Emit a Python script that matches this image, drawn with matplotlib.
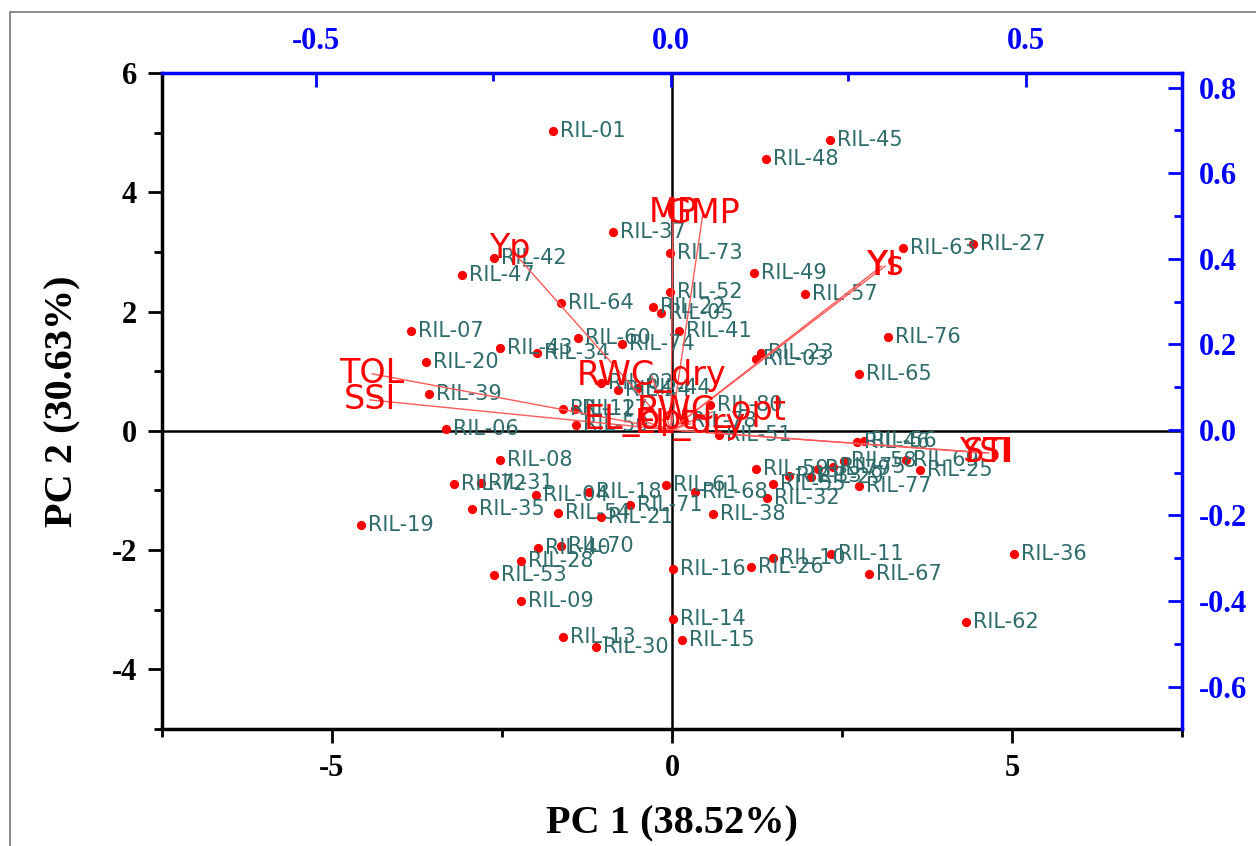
import matplotlib
matplotlib.use("Agg")
import matplotlib.pyplot as plt
from matplotlib.patches import Rectangle
from matplotlib.ticker import MultipleLocator, FixedLocator

plt.rcParams["axes.unicode_minus"] = False

# PCA scores of the RILs (PC1, PC2)
ril_names = [
    "RIL-01", "RIL-45", "RIL-48", "RIL-37", "RIL-73", "RIL-63", "RIL-27", "RIL-42",
    "RIL-47", "RIL-49", "RIL-57", "RIL-52", "RIL-64", "RIL-22", "RIL-05", "RIL-41",
    "RIL-07", "RIL-76", "RIL-60", "RIL-74", "RIL-43", "RIL-34", "RIL-20", "RIL-23",
    "RIL-03", "RIL-65", "RIL-39", "RIL-02", "RIL-24", "RIL-44", "RIL-80", "RIL-12",
    "RIL-17", "RIL-50", "RIL-78", "RIL-06", "RIL-51", "RIL-46", "RIL-56", "RIL-58",
    "RIL-69", "RIL-25", "RIL-59", "RIL-33", "RIL-55", "RIL-29", "RIL-79", "RIL-75",
    "RIL-77", "RIL-32", "RIL-38", "RIL-68", "RIL-61", "RIL-71", "RIL-21", "RIL-18",
    "RIL-04", "RIL-54", "RIL-08", "RIL-72", "RIL-31", "RIL-35", "RIL-19", "RIL-40",
    "RIL-70", "RIL-28", "RIL-53", "RIL-09", "RIL-13", "RIL-30", "RIL-16", "RIL-14",
    "RIL-15", "RIL-26", "RIL-10", "RIL-11", "RIL-67", "RIL-36", "RIL-62",
]
pc1 = [
    -1.75, 2.32, 1.38, -0.87, -0.03, 3.40, 4.43, -2.62,
    -3.09, 1.21, 1.96, -0.03, -1.63, -0.28, -0.16, 0.10,
    -3.84, 3.18, -1.38, -0.74, -2.53, -1.99, -3.62, 1.31,
    1.24, 2.75, -3.57, -1.04, -0.79, -0.50, 0.56, -1.60,
    -1.43, -1.41, 0.18, -3.32, 0.69, 2.72, 2.82, 2.53,
    3.44, 3.65, 1.24, 1.72, 1.49, 2.04, 2.15, 2.37,
    2.75, 1.40, 0.60, 0.34, -0.09, -0.62, -1.04, -1.22,
    -2.00, -1.68, -2.53, -3.21, -2.81, -2.94, -4.57, -1.97,
    -1.63, -2.22, -2.62, -2.22, -1.60, -1.12, 0.01, 0.01,
    0.15, 1.16, 1.49, 2.34, 2.90, 5.03, 4.32,
]
pc2 = [
    5.03, 4.87, 4.55, 3.34, 2.99, 3.06, 3.14, 2.89,
    2.62, 2.64, 2.30, 2.32, 2.15, 2.08, 1.98, 1.68,
    1.68, 1.58, 1.55, 1.45, 1.39, 1.31, 1.16, 1.31,
    1.21, 0.96, 0.61, 0.81, 0.69, 0.71, 0.44, 0.36,
    0.37, 0.10, 0.17, 0.03, -0.07, -0.18, -0.17, -0.50,
    -0.49, -0.66, -0.64, -0.76, -0.89, -0.77, -0.64, -0.61,
    -0.92, -1.13, -1.39, -1.03, -0.91, -1.24, -1.45, -1.03,
    -1.08, -1.38, -0.49, -0.89, -0.87, -1.31, -1.58, -1.97,
    -1.93, -2.18, -2.42, -2.86, -3.46, -3.63, -2.32, -3.16,
    -3.50, -2.29, -2.13, -2.07, -2.40, -2.07, -3.21,
]

# trait loadings (top / right axes)
trait_names = ["Yp", "MP", "GMP", "TOL", "SSI", "Ys", "YI", "YSI", "STI",
               "RWC_dry", "EL_opt", "RWC_opt", "EL_dry"]
load1 = [-0.227, 0.003, 0.045, -0.421, -0.424, 0.302, 0.297, 0.442, 0.448,
         -0.027, -0.044, 0.058, 0.027]
load2 = [0.425, 0.509, 0.505, 0.131, 0.070, 0.383, 0.383, -0.054, -0.054,
         0.126, 0.023, 0.042, 0.014]

serif = "Liberation Serif"
teal = "#2f6b6b"
blue = "#0000ff"

fig = plt.figure(figsize=(12.56, 8.46), dpi=100)
fig.patches.append(Rectangle((10 / 1256, -0.01), 1.02, 1 - 12 / 846 + 0.01,
                             transform=fig.transFigure, fill=False,
                             edgecolor="#777777", linewidth=1.2))

pos = [162 / 1256, (846 - 729) / 846, 1020 / 1256, 656 / 846]
ax = fig.add_axes(pos)
ax.set_xlim(-7.5, 7.5)
ax.set_ylim(-5, 6)

ax.axvline(0, color="black", lw=1.8, zorder=1)
ax.axhline(0, color="black", lw=1.8, zorder=1)

ax.scatter(pc1, pc2, s=44, color="red", zorder=3, linewidths=0)
for name, x, y in zip(ril_names, pc1, pc2):
    ax.annotate(name, (x, y), xytext=(5, 0), textcoords="offset points",
                ha="left", va="center", fontsize=15, color=teal, zorder=4)

ax.xaxis.set_major_locator(FixedLocator([-5, 0, 5]))
ax.xaxis.set_minor_locator(FixedLocator([-7.5, -2.5, 2.5, 7.5]))
ax.yaxis.set_major_locator(MultipleLocator(2))
ax.yaxis.set_minor_locator(MultipleLocator(1))
ax.tick_params(which="both", direction="out", width=2, color="black")
ax.tick_params(which="major", length=10, labelsize=22, pad=8)
ax.tick_params(which="minor", length=6)
for lab in ax.get_xticklabels() + ax.get_yticklabels():
    lab.set_fontfamily(serif)
    lab.set_fontweight("bold")
ax.spines["bottom"].set_linewidth(2.5)
ax.spines["left"].set_linewidth(2.5)
ax.spines["top"].set_visible(False)
ax.spines["right"].set_visible(False)

ax.set_xlabel("PC 1 (38.52%)", fontsize=29, fontfamily=serif,
              fontweight="bold", labelpad=16)
ax.set_ylabel("PC 2 (30.63%)", fontsize=29, fontfamily=serif,
              fontweight="bold", labelpad=22)

# loadings axes
axl = fig.add_axes(pos, facecolor="none")
axl.set_xlim(-0.717, 0.720)
axl.set_ylim(-0.699, 0.834)
axl.xaxis.tick_top()
axl.yaxis.tick_right()
axl.xaxis.set_major_locator(FixedLocator([-0.5, 0.0, 0.5]))
axl.xaxis.set_minor_locator(FixedLocator([-0.25, 0.25]))
axl.yaxis.set_major_locator(MultipleLocator(0.2))
axl.yaxis.set_minor_locator(MultipleLocator(0.1))
axl.xaxis.set_major_formatter(plt.FuncFormatter(lambda v, p: f"{v:.1f}"))
axl.yaxis.set_major_formatter(plt.FuncFormatter(lambda v, p: f"{v:.1f}"))
axl.tick_params(which="both", direction="in", width=2, color=blue,
                labelcolor=blue)
axl.tick_params(which="major", length=10, labelsize=22, pad=12)
axl.tick_params(which="minor", length=6)
for lab in axl.get_xticklabels() + axl.get_yticklabels():
    lab.set_fontfamily(serif)
    lab.set_fontweight("bold")
for side in ["top", "right"]:
    axl.spines[side].set_color(blue)
    axl.spines[side].set_linewidth(2.5)
axl.spines["bottom"].set_visible(False)
axl.spines["left"].set_visible(False)

for name, x, y in zip(trait_names, load1, load2):
    axl.plot([0, x], [0, y], color="#ff5a5a", lw=1.0, zorder=2)
    axl.text(x, y, name, ha="center", va="center", fontsize=24,
             color="red", zorder=5)

fig.savefig("out.png", dpi=100)
